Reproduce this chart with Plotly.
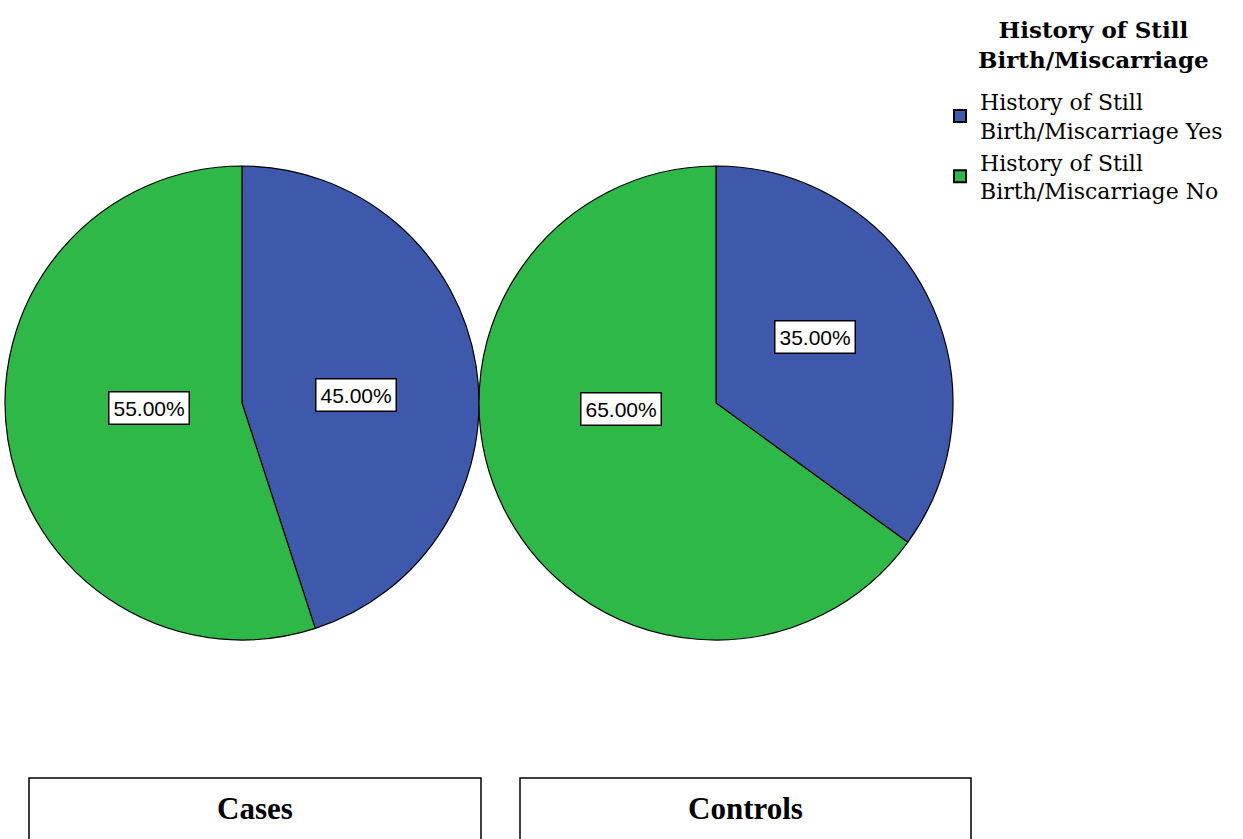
import plotly.graph_objects as go

W, H = 1243, 839

categories = ["History of Still<br>Birth/Miscarriage Yes", "History of Still<br>Birth/Miscarriage No"]
cases_values = [45.0, 55.0]
controls_values = [35.0, 65.0]
group_names = ["Cases", "Controls"]
legend_title = "History of Still<br>Birth/Miscarriage"
colors = ["#3E58AC", "#2EB848"]

def px_x(x):
    return x / W

def px_y(y):
    return 1 - y / H

fig = go.Figure()

R = 237
centers = [(242, 403), (716, 403)]
for vals, (cx, cy), name in zip([cases_values, controls_values], centers, group_names):
    fig.add_trace(go.Pie(
        labels=categories,
        values=vals,
        name=name,
        sort=False,
        direction="clockwise",
        rotation=0,
        textinfo="none",
        hoverinfo="label+percent",
        marker=dict(colors=colors, line=dict(color="#000000", width=1.2)),
        domain=dict(x=[px_x(cx - R), px_x(cx + R)], y=[px_y(cy + R), px_y(cy - R)]),
    ))

# percentage label boxes
label_pos = [
    [(356, 395), (149, 408)],
    [(815, 337), (621, 409)],
]
annotations = []
for vals, positions in zip([cases_values, controls_values], label_pos):
    for v, (lx, ly) in zip(vals, positions):
        annotations.append(dict(
            x=px_x(lx), y=px_y(ly), xref="paper", yref="paper",
            text=f"{v:.2f}%", showarrow=False,
            font=dict(family="Liberation Sans, Arial", size=21, color="#000000"),
            bgcolor="#FFFFFF", bordercolor="#000000", borderwidth=1.5, borderpad=4,
            xanchor="center", yanchor="middle",
        ))

# legend title (centered lines)
annotations.append(dict(
    x=px_x(1093), y=px_y(45), xref="paper", yref="paper",
    text=f"<b>{legend_title}</b>", showarrow=False, align="center",
    font=dict(family="DejaVu Serif", size=23, color="#000000"),
    xanchor="center", yanchor="middle",
))

# group boxes at bottom
box_pos = [(29, 481), (520, 971)]
shapes = []
for name, (x0, x1) in zip(group_names, box_pos):
    shapes.append(dict(type="rect", xref="paper", yref="paper",
                       x0=px_x(x0), x1=px_x(x1), y0=-0.05, y1=px_y(778),
                       line=dict(color="#000000", width=1.5), fillcolor="rgba(0,0,0,0)"))
    annotations.append(dict(
        x=px_x((x0 + x1) / 2), y=px_y(808), xref="paper", yref="paper",
        text=f"<b>{name}</b>", showarrow=False,
        font=dict(family="Liberation Serif, Times New Roman", size=31, color="#000000"),
        xanchor="center", yanchor="middle",
    ))

fig.update_layout(
    width=W, height=H,
    margin=dict(l=0, r=0, t=0, b=0),
    paper_bgcolor="#FFFFFF",
    plot_bgcolor="#FFFFFF",
    showlegend=True,
    legend=dict(
        x=px_x(940), y=px_y(81), xanchor="left", yanchor="top",
        font=dict(family="DejaVu Serif", size=22, color="#000000"),
        bgcolor="rgba(0,0,0,0)",
        tracegroupgap=0,
        itemsizing="constant",
    ),
    annotations=annotations,
    shapes=shapes,
)

fig.write_html("out.html")
